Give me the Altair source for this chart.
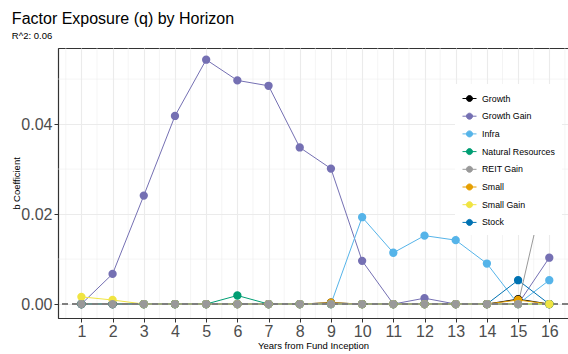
import altair as alt
import pandas as pd

years = list(range(1, 17))
series_names = ["Growth", "Growth Gain", "Infra", "Natural Resources",
                "REIT Gain", "Small", "Small Gain", "Stock"]
colors = ["#000000", "#7570B3", "#56B4E9", "#009E73",
          "#999999", "#E69F00", "#F0E442", "#0072B2"]

growth = [0, 0, 0, 0, 0, 0, 0, 0, 0.0003, 0, 0, 0, 0, 0, 0.0011, 0]
growth_gain = [0, 0.0067, 0.0241, 0.0418, 0.0543, 0.0497, 0.0485, 0.0348,
               0.0301, 0.0096, 0, 0.0013, 0, 0, 0, 0.0103]
infra = [0, 0, 0, 0, 0, 0, 0, 0, 0, 0.0193, 0.0114, 0.0152, 0.0142, 0.0090, 0, 0.0053]
natural_resources = [0, 0, 0, 0, 0, 0.0019, 0, 0, 0, 0, 0, 0, 0, 0, 0, 0]
reit_gain = [0, 0, 0, 0, 0, 0, 0, 0, 0, 0, 0, 0, 0, 0, 0, 0.0301]
small = [0, 0, 0, 0, 0, 0, 0, 0, 0.0003, 0, 0, 0, 0, 0, 0.0009, 0]
small_gain = [0.0016, 0.0009, 0, 0, 0, 0, 0, 0, 0, 0, 0, 0, 0, 0, 0, 0]
stock = [0, 0, 0, 0, 0, 0, 0, 0, 0, 0, 0, 0, 0, 0, 0.0053, 0]

y_ticks = [0.0, 0.02, 0.04]
x_minor = [v + 0.5 for v in range(0, 17)]
y_minor = [0.01, 0.03, 0.05]

values = {
    "Growth": growth, "Growth Gain": growth_gain, "Infra": infra,
    "Natural Resources": natural_resources, "REIT Gain": reit_gain,
    "Small": small, "Small Gain": small_gain, "Stock": stock,
}
draw_order = ["Growth", "Growth Gain", "Infra", "Natural Resources",
              "Small", "Stock", "Small Gain", "REIT Gain"]

rows = []
for k, name in enumerate(draw_order):
    for yr, v in zip(years, values[name]):
        rows.append({"year": yr, "coef": v, "series": name, "ord": k})
df = pd.DataFrame(rows)
zero_df = pd.DataFrame({"y0": [0.0]})
xminor_df = pd.DataFrame({"xm": x_minor})
yminor_df = pd.DataFrame({"ym": y_minor})

FONT = "Liberation Sans"

x_scale = alt.Scale(domain=[0.25, 16.6], nice=False, zero=False)
y_scale = alt.Scale(domain=[-0.0031, 0.0569], nice=False, zero=False)
col_scale = alt.Scale(domain=series_names, range=colors)

x_axis = alt.Axis(
    values=years, title="Years from Fund Inception", format="d",
    labelOverlap=False, grid=True, gridColor="#EBEBEB", gridWidth=1.1,
    tickColor="#333333", tickSize=4, domainColor="#333333", domainWidth=1.2,
    labelFont=FONT, labelFontSize=16, labelColor="#4D4D4D", labelPadding=1,
    titleFont=FONT, titleFontSize=9.5, titleFontWeight="normal", titleColor="black",
    titlePadding=1,
)
y_axis = alt.Axis(
    values=y_ticks, title="b Coefficient", format=".2f",
    labelOverlap=False, grid=True, gridColor="#EBEBEB", gridWidth=1.1,
    tickColor="#333333", tickSize=4, domainColor="#333333", domainWidth=1.2,
    labelFont=FONT, labelFontSize=16, labelColor="#4D4D4D", labelPadding=2,
    titleFont=FONT, titleFontSize=9.5, titleFontWeight="normal", titleColor="black",
    titlePadding=-1,
)

legend_symbol = ("M-1,0L1,0M-0.43,0A0.43,0.43,0,1,1,0.43,0"
                 "A0.43,0.43,0,1,1,-0.43,0Z")
legend = alt.Legend(
    title=None, orient="none", legendX=397, legendY=36,
    fillColor="white", padding=7, symbolType=legend_symbol, symbolSize=196,
    symbolStrokeWidth=1, rowPadding=4.7, labelOffset=5,
    labelFont=FONT, labelFontSize=8.8, labelColor="black", zindex=1,
)

xminor = alt.Chart(xminor_df).mark_rule(color="#EBEBEB", strokeWidth=0.55, clip=True).encode(
    x=alt.X("xm:Q", scale=x_scale, axis=x_axis)
)
yminor = alt.Chart(yminor_df).mark_rule(color="#EBEBEB", strokeWidth=0.55, clip=True).encode(
    y=alt.Y("ym:Q", scale=y_scale, axis=y_axis)
)

base = alt.Chart(df)

lines = base.mark_line(strokeWidth=1, clip=True).encode(
    x=alt.X("year:Q", scale=x_scale, axis=x_axis),
    y=alt.Y("coef:Q", scale=y_scale, axis=y_axis),
    stroke=alt.Stroke("series:N", scale=col_scale, legend=legend),
    detail="series:N",
    order="year:Q",
)

zero_line = alt.Chart(zero_df).mark_rule(
    color="#7F7F7F", strokeWidth=2, strokeDash=[6, 4]
).encode(y=alt.Y("y0:Q", scale=y_scale, axis=y_axis))

points = base.mark_point(filled=True, size=40, opacity=1, clip=True).encode(
    x=alt.X("year:Q", scale=x_scale, axis=x_axis),
    y=alt.Y("coef:Q", scale=y_scale, axis=y_axis),
    fill=alt.Fill("series:N", scale=col_scale, legend=legend),
    stroke=alt.Stroke("series:N", scale=col_scale, legend=legend),
    order="ord:Q",
)

chart = alt.layer(xminor, yminor, lines, zero_line, points).properties(
    width=510, height=270,
    title=alt.TitleParams(
        text="Factor Exposure (q) by Horizon", subtitle="R^2: 0.06",
        anchor="start", font=FONT, fontSize=16, fontWeight="normal", color="black",
        subtitleFont=FONT, subtitleFontSize=9.5, subtitleColor="black",
        subtitlePadding=4, offset=8,
    ),
    autosize=alt.AutoSizeParams(type="none"),
    padding={"left": 58, "top": 48, "right": 0, "bottom": 36},
).configure_view(stroke="#333333", strokeWidth=1)

chart.save("out.html", embed_options={"renderer": "svg", "actions": False})
